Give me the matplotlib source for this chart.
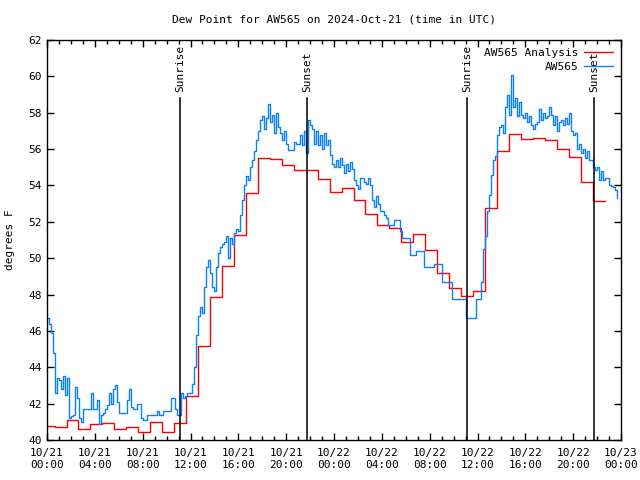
import numpy as np
import pandas as pd
import matplotlib
matplotlib.use("Agg")
import matplotlib.pyplot as plt
import matplotlib.dates as mdates

plt.rcParams["font.family"] = ["DejaVu Sans Mono"]
plt.rcParams["font.size"] = 8

# station obs, 10 minute steps from 2024-10-21 00:00 UTC
obs_dewpt = [
    46.7, 46.4, 45.9, 44.8, 42.6, 43.4,
    43.3, 42.8, 43.5, 42.5, 43.4, 41.2,
    41.3, 41.4, 42.9, 42.3, 41.2, 41.0,
    41.7, 41.7, 41.7, 41.7, 42.6, 41.7,
    41.7, 42.2, 40.9, 41.4, 41.5, 41.7,
    41.9, 42.6, 42.0, 42.8, 43.0, 42.1,
    41.5, 41.5, 41.5, 41.5, 42.2, 42.8,
    41.8, 41.7, 41.7, 42.0, 42.0, 41.2,
    41.1, 41.1, 41.35, 41.35, 41.35, 41.35,
    41.35, 41.6, 41.35, 41.35, 41.6, 41.6,
    41.6, 41.6, 42.3, 42.3, 41.7, 41.35,
    41.4, 42.6, 42.3, 42.4, 42.6, 42.6,
    42.6, 43.1, 44.0, 45.8, 46.8, 47.3,
    47.0, 48.4, 49.5, 49.9, 49.2, 48.4,
    48.2, 49.5, 50.3, 50.6, 50.8, 50.9,
    51.2, 50.0, 51.1, 50.8, 51.4, 51.6,
    51.5, 52.4, 53.2, 54.0, 54.5, 54.3,
    55.0, 55.4, 55.9, 56.5, 57.0, 57.6,
    57.8, 57.1, 57.7, 58.5, 57.5, 57.9,
    56.9, 58.0, 57.2, 56.9, 56.5, 57.0,
    56.3, 55.95, 55.95, 55.95, 56.4, 56.3,
    56.3, 56.8, 56.2, 57.0, 55.8, 57.6,
    57.3, 57.1, 56.3, 57.0, 56.2, 56.8,
    56.0, 56.9, 56.2, 56.5, 55.7, 55.2,
    55.0, 55.4, 55.0, 55.5, 55.1, 54.7,
    55.2, 54.8, 55.3, 54.9, 54.3, 54.0,
    53.8, 54.4, 54.4, 54.2, 54.1, 54.4,
    54.0, 53.2, 52.8, 53.4, 53.0, 52.6,
    52.6, 52.4, 52.2, 51.8, 51.8, 51.8,
    52.1, 52.1, 52.1, 51.5, 51.1, 51.1,
    51.1, 51.1, 50.2, 50.2, 50.2, 50.4,
    50.4, 50.4, 50.4, 49.5, 49.5, 49.5,
    49.5, 49.5, 49.7, 49.7, 49.7, 49.7,
    48.7, 48.7, 48.7, 48.7, 48.7, 47.74,
    47.74, 47.74, 47.74, 47.74, 47.74, 47.74,
    46.7, 46.7, 46.7, 46.7, 46.7, 47.75,
    47.75, 47.75, 48.7, 50.5, 51.2, 52.6,
    53.5, 54.6, 55.4, 55.6, 56.8, 57.2,
    57.3, 56.9, 58.3, 59.0, 57.9, 60.1,
    58.3, 58.8, 57.8, 58.6, 57.9, 57.7,
    58.0, 57.5, 57.8, 57.3, 57.1, 57.4,
    57.5, 58.2, 57.6, 58.0, 57.7, 57.8,
    58.3, 57.9, 57.3, 57.8, 57.0, 57.5,
    57.6, 57.3, 57.7, 57.4, 58.0, 57.0,
    56.8, 56.9, 56.0, 56.3, 55.8, 56.0,
    55.5, 55.9, 55.4, 55.4, 55.0, 54.85,
    55.0, 54.3, 54.8, 54.3, 54.4, 54.4,
    54.0, 53.95, 53.9, 53.75, 53.3,
]

# hourly analysis values (held until next hour)
ana_dewpt = [
    40.78, 40.73, 41.08, 40.62, 40.88, 40.95, 40.62, 40.73, 40.45, 41.0,
    40.45, 40.95, 42.42, 45.15, 47.85, 49.57, 51.26, 53.57, 55.49, 55.44,
    55.1, 54.83, 54.87, 54.34, 53.64, 53.84, 53.2, 52.43, 51.8, 51.66,
    50.87, 51.31, 50.45, 49.17, 48.34, 47.9, 48.2, 52.74, 55.87, 56.81,
    56.54, 56.6, 56.5, 55.99, 55.55, 54.17, 53.13,
]

sun_times = ["2024-10-21 11:09", "2024-10-21 21:46", "2024-10-22 11:08", "2024-10-22 21:45"]
sun_labels = ["Sunrise", "Sunset", "Sunrise", "Sunset"]

obs_t = pd.date_range("2024-10-21 00:00", periods=len(obs_dewpt), freq="10min")
ana_v = np.append(ana_dewpt, ana_dewpt[-1])
ana_t = pd.date_range("2024-10-20 23:38", periods=len(ana_v), freq="60min")

fig = plt.figure(figsize=(6.4, 4.8), dpi=100)
ax = fig.add_axes([47 / 640, 40 / 480, 574 / 640, 400 / 480])

ax.plot(ana_t, ana_v, drawstyle="steps-post", color="#ff0000", lw=1.0, label="AW565 Analysis")
ax.plot(obs_t, obs_dewpt, drawstyle="steps-post", color="#0a80ff", lw=1.0, label="AW565")

for t, lab in zip(sun_times, sun_labels):
    t = pd.Timestamp(t)
    ax.axvline(t, ymin=0, ymax=0.855, color="black", lw=1.1)
    ax.text(t, 0.87, lab, transform=ax.get_xaxis_transform(), rotation=90,
            ha="center", va="bottom")

ax.set_xlim(pd.Timestamp("2024-10-21 00:00"), pd.Timestamp("2024-10-23 00:00"))
ax.set_ylim(40, 62)
ax.set_yticks(np.arange(40, 63, 2))
ax.xaxis.set_major_locator(mdates.HourLocator(byhour=range(0, 24, 4)))
ax.xaxis.set_minor_locator(mdates.HourLocator())
ax.xaxis.set_major_formatter(mdates.DateFormatter("%m/%d\n%H:%M"))
ax.tick_params(which="both", direction="in", top=True, right=True, width=1)
ax.tick_params(which="major", length=5)
ax.tick_params(which="minor", length=3)
ax.tick_params(axis="x", pad=6)
for s in ax.spines.values():
    s.set_linewidth(1)

ax.legend(loc="upper right", frameon=False, markerfirst=False, handlelength=2.6,
          borderaxespad=0.35, labelspacing=0.3, handletextpad=0.5)

fig.text(334 / 640, 1 - 19 / 480, "Dew Point for AW565 on 2024-Oct-21 (time in UTC)",
         ha="center", va="center")
fig.text(10 / 640, 0.5, "degrees F", rotation=90, ha="center", va="center")

fig.savefig("out.png", dpi=100)
